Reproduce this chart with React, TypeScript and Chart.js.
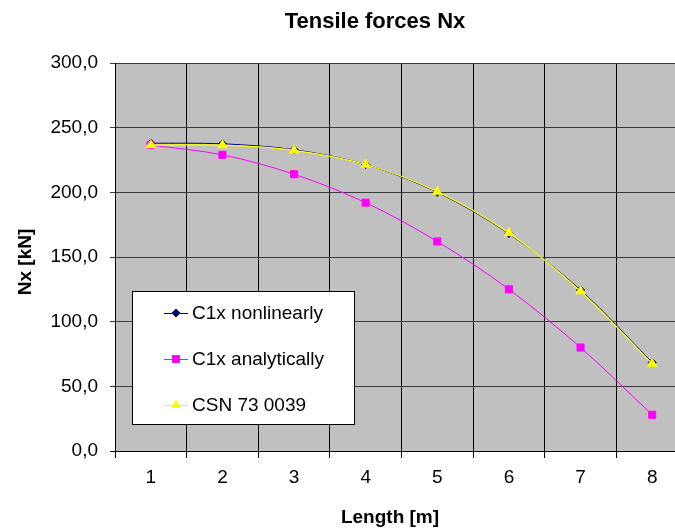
import React, { useEffect, useRef } from "react";
import { Chart, registerables } from "chart.js";
import { drawPoint } from "chart.js/helpers";

Chart.register(...registerables);

const categories = ["1", "2", "3", "4", "5", "6", "7", "8"];
const nonlinearValues = [238, 237.5, 233, 221.5, 200, 168, 124.5, 68.5];
const analyticValues = [236.5, 229, 214, 192, 162, 125, 80, 28];
const csnValues = [236.5, 236.5, 232.5, 221.5, 200.5, 168.5, 123.5, 67.5];
const seriesNames = ["C1x nonlinearly", "C1x analytically", "CSN 73 0039"];
const chartTitle = "Tensile forces Nx";
const xTitle = "Length [m]";
const yTitle = "Nx [kN]";

const FONT = "'Liberation Sans', Arial, sans-serif";

const textPlugin = {
  id: "customTexts",
  beforeDraw(chart: any) {
    const { ctx, chartArea } = chart;
    ctx.save();
    ctx.fillStyle = "#c0c0c0";
    ctx.fillRect(chartArea.left, chartArea.top, chartArea.right - chartArea.left, chartArea.bottom - chartArea.top);
    ctx.restore();
  },
  afterDraw(chart: any) {
    const { ctx } = chart;
    ctx.save();
    ctx.fillStyle = "#000";
    ctx.textAlign = "center";
    ctx.textBaseline = "alphabetic";
    ctx.font = `bold 22px ${FONT}`;
    ctx.fillText(chartTitle, 375, 28);
    ctx.font = `bold 19px ${FONT}`;
    ctx.fillText(xTitle, 390, 523);
    ctx.save();
    ctx.translate(31, 262);
    ctx.rotate(-Math.PI / 2);
    ctx.fillText(yTitle, 0, 0);
    ctx.restore();

    // legend
    const bx = 132, by = 291, bw = 222, bh = 133;
    ctx.fillStyle = "#fff";
    ctx.fillRect(bx, by, bw, bh);
    ctx.strokeStyle = "#000";
    ctx.lineWidth = 1;
    ctx.strokeRect(bx + 0.5, by + 0.5, bw, bh);
    const rows = [313, 359, 405];
    chart.data.datasets.forEach((ds: any, i: number) => {
      const y = rows[i];
      ctx.strokeStyle = ds.borderColor;
      ctx.lineWidth = 1;
      ctx.beginPath();
      ctx.moveTo(164, y + 0.5);
      ctx.lineTo(188, y + 0.5);
      ctx.stroke();
      ctx.fillStyle = ds.pointBackgroundColor;
      ctx.strokeStyle = ds.pointBorderColor;
      drawPoint(ctx, { pointStyle: ds.pointStyle, radius: ds.pointRadius, borderWidth: 1, rotation: 0 }, 176, y);
      ctx.fillStyle = "#000";
      ctx.font = `19px ${FONT}`;
      ctx.textAlign = "left";
      ctx.textBaseline = "middle";
      ctx.fillText(ds.label, 192, y + 1);
    });
    ctx.restore();
  },
};

export default function App() {
  const ref = useRef<HTMLCanvasElement>(null);
  useEffect(() => {
    const chart = new Chart(ref.current!, {
      type: "line",
      data: {
        labels: categories,
        datasets: [
          {
            label: seriesNames[0],
            data: nonlinearValues,
            borderColor: "#000080",
            backgroundColor: "#000080",
            pointBackgroundColor: "#000080",
            pointBorderColor: "#000080",
            pointStyle: "rectRot",
            pointRadius: 4,
            borderWidth: 1,
            tension: 0.33,
            order: 3,
          },
          {
            label: seriesNames[1],
            data: analyticValues,
            borderColor: "#ff00ff",
            backgroundColor: "#ff00ff",
            pointBackgroundColor: "#ff00ff",
            pointBorderColor: "#ff00ff",
            pointStyle: "rect",
            pointRadius: 5,
            borderWidth: 1,
            tension: 0.33,
            order: 2,
          },
          {
            label: seriesNames[2],
            data: csnValues,
            borderColor: "#ffff00",
            backgroundColor: "#ffff00",
            pointBackgroundColor: "#ffff00",
            pointBorderColor: "#ffff00",
            pointStyle: "triangle",
            pointRadius: 5,
            borderWidth: 1.2,
            tension: 0.33,
            order: 1,
          },
        ],
      },
      options: {
        animation: false,
        responsive: false,
        maintainAspectRatio: false,
        events: [],
        layout: { padding: { left: 0, top: 63, right: 12, bottom: 0 } },
        plugins: {
          legend: { display: false },
          title: { display: false },
          tooltip: { enabled: false },
        },
        scales: {
          x: {
            type: "category",
            offset: true,
            grid: {
              offset: true,
              color: "#000",
              lineWidth: 1,
              tickLength: 7,
              drawTicks: true,
            },
            border: { color: "#000", width: 1 },
            ticks: {
              color: "#000",
              font: { family: FONT, size: 19 },
              padding: 8,
              maxRotation: 0,
              autoSkip: false,
            },
            afterFit(scale: any) {
              scale.height = 80;
            },
          },
          y: {
            min: 0,
            max: 300,
            grid: {
              color: (c: any) => (c.tick && c.tick.value === 0 ? "#000" : "#3a3a3a"),
              lineWidth: 1,
              tickLength: 5,
            },
            border: { color: "#000", width: 1 },
            ticks: {
              stepSize: 50,
              color: "#000",
              font: { family: FONT, size: 19 },
              padding: 12,
              callback: (v: any) => Number(v).toFixed(1).replace(".", ","),
            },
            afterFit(scale: any) {
              scale.width = 115;
            },
          },
        },
      },
      plugins: [textPlugin],
    });
    return () => chart.destroy();
  }, []);
  return (
    <div style={{ position: "fixed", left: 0, top: 0, width: 675, height: 531, overflow: "hidden", background: "#fff" }}>
      <canvas ref={ref} width={700} height={531} style={{ display: "block", width: 700, height: 531 }} />
    </div>
  );
}
